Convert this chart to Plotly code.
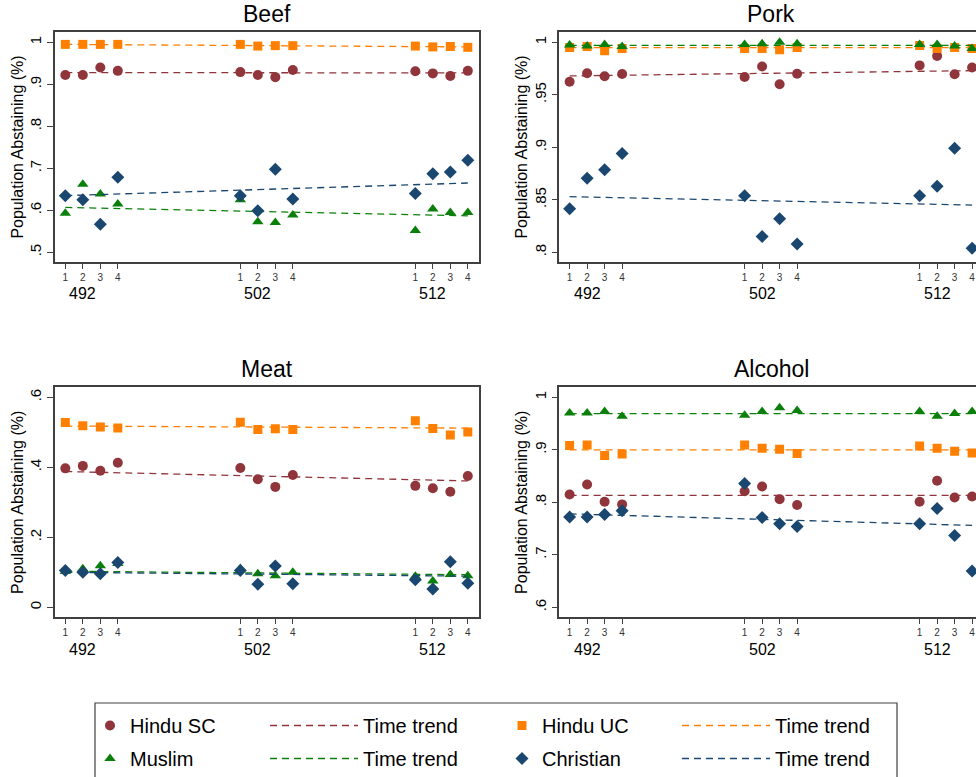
import plotly.graph_objects as go

# ---------------- data ----------------
waves = [492, 502, 512]
quarters = [1, 2, 3, 4]
groups = ["Hindu SC", "Hindu UC", "Muslim", "Christian"]
panels = ["Beef", "Pork", "Meat", "Alcohol"]

beef_sc = [0.922, 0.922, 0.940, 0.932, 0.929, 0.922, 0.917, 0.934, 0.931, 0.926, 0.920, 0.932]
beef_uc = [0.995, 0.995, 0.995, 0.995, 0.995, 0.991, 0.992, 0.992, 0.991, 0.989, 0.990, 0.988]
beef_mu = [0.593, 0.662, 0.639, 0.615, 0.625, 0.573, 0.571, 0.589, 0.552, 0.603, 0.595, 0.595]
beef_ch = [0.635, 0.625, 0.567, 0.679, 0.635, 0.599, 0.698, 0.627, 0.640, 0.687, 0.691, 0.719]
beef_trend = {"Hindu SC": [0.928, 0.927], "Hindu UC": [0.995, 0.989],
              "Muslim": [0.607, 0.587], "Christian": [0.635, 0.665]}

pork_sc = [0.9625, 0.9705, 0.9676, 0.9698, 0.967, 0.977, 0.960, 0.970, 0.978, 0.987, 0.9695, 0.976]
pork_uc = [0.995, 0.996, 0.992, 0.994, 0.994, 0.994, 0.993, 0.995, 0.997, 0.994, 0.995, 0.994]
pork_mu = [0.9975, 0.9965, 0.998, 0.996, 0.998, 0.9987, 1.0, 0.9987, 0.998, 0.998, 0.9965, 0.994]
pork_ch = [0.8416, 0.8705, 0.8787, 0.894, 0.854, 0.815, 0.832, 0.808, 0.854, 0.863, 0.899, 0.804]
pork_trend = {"Hindu SC": [0.968, 0.973], "Hindu UC": [0.995, 0.995],
              "Muslim": [0.997, 0.997], "Christian": [0.853, 0.845]}

meat_sc = [0.397, 0.404, 0.390, 0.413, 0.398, 0.366, 0.344, 0.378, 0.347, 0.340, 0.330, 0.375]
meat_uc = [0.528, 0.519, 0.515, 0.512, 0.529, 0.508, 0.510, 0.508, 0.533, 0.511, 0.492, 0.501]
meat_mu = [0.102, 0.110, 0.119, 0.125, 0.111, 0.096, 0.090, 0.100, 0.089, 0.075, 0.094, 0.090]
meat_ch = [0.105, 0.100, 0.096, 0.128, 0.105, 0.066, 0.118, 0.067, 0.079, 0.052, 0.130, 0.069]
meat_trend = {"Hindu SC": [0.388, 0.361], "Hindu UC": [0.518, 0.512],
              "Muslim": [0.103, 0.093], "Christian": [0.100, 0.089]}

alc_sc = [0.815, 0.834, 0.801, 0.796, 0.821, 0.830, 0.806, 0.795, 0.801, 0.841, 0.809, 0.811]
alc_uc = [0.908, 0.909, 0.889, 0.892, 0.909, 0.903, 0.901, 0.893, 0.907, 0.903, 0.897, 0.894]
alc_mu = [0.970, 0.970, 0.973, 0.964, 0.966, 0.973, 0.980, 0.975, 0.973, 0.964, 0.969, 0.973]
alc_ch = [0.772, 0.772, 0.777, 0.784, 0.836, 0.771, 0.759, 0.754, 0.759, 0.788, 0.737, 0.669]
alc_trend = {"Hindu SC": [0.813, 0.813], "Hindu UC": [0.900, 0.900],
             "Muslim": [0.969, 0.969], "Christian": [0.778, 0.756]}

beef_ticks = [0.5, 0.6, 0.7, 0.8, 0.9, 1.0]
beef_ticktext = [".5", ".6", ".7", ".8", ".9", "1"]
pork_ticks = [0.8, 0.85, 0.9, 0.95, 1.0]
pork_ticktext = [".8", ".85", ".9", ".95", "1"]
meat_ticks = [0, 0.2, 0.4, 0.6]
meat_ticktext = ["0", ".2", ".4", ".6"]
alc_ticks = [0.6, 0.7, 0.8, 0.9, 1.0]
alc_ticktext = [".6", ".7", ".8", ".9", "1"]

panel_values = {
    "Beef": {"Hindu SC": beef_sc, "Hindu UC": beef_uc, "Muslim": beef_mu, "Christian": beef_ch},
    "Pork": {"Hindu SC": pork_sc, "Hindu UC": pork_uc, "Muslim": pork_mu, "Christian": pork_ch},
    "Meat": {"Hindu SC": meat_sc, "Hindu UC": meat_uc, "Muslim": meat_mu, "Christian": meat_ch},
    "Alcohol": {"Hindu SC": alc_sc, "Hindu UC": alc_uc, "Muslim": alc_mu, "Christian": alc_ch},
}
panel_trends = {"Beef": beef_trend, "Pork": pork_trend, "Meat": meat_trend, "Alcohol": alc_trend}
panel_yticks = {"Beef": (beef_ticks, beef_ticktext), "Pork": (pork_ticks, pork_ticktext),
                "Meat": (meat_ticks, meat_ticktext), "Alcohol": (alc_ticks, alc_ticktext)}

# ---------------- style ----------------
W, H = 976, 777
FONT = "Liberation Sans, Arial, sans-serif"
colors = {"Hindu SC": "#90353B", "Hindu UC": "#FF8000", "Muslim": "#0A800A", "Christian": "#1A476F"}
symbols = {"Hindu SC": "circle", "Hindu UC": "square", "Muslim": "triangle-up", "Christian": "diamond"}
msize = {"Hindu SC": 10, "Hindu UC": 9, "Muslim": 10, "Christian": 10}
FRAME = "#404040"

# legend columns: markers of SC/Muslim, their trends, markers of UC/Christian, their trends
marker_legend = {"Hindu SC": "legend", "Muslim": "legend", "Hindu UC": "legend3", "Christian": "legend3"}
trend_legend = {"Hindu SC": "legend2", "Muslim": "legend2", "Hindu UC": "legend4", "Christian": "legend4"}

# quarter positions on the time axis (label of a wave sits on its 2nd quarter)
xq = [w + q - 2 for w in waves for q in quarters]
xq_text = [str(q) for w in waves for q in quarters]

y_ranges = {"Beef": [0.477, 1.0245], "Pork": [0.7908, 1.0098],
            "Meat": [-0.0286, 0.6286], "Alcohol": [0.581, 1.019]}

# pixel layout
px_per_unit = 17.5
x_left_px = {"Beef": 55, "Pork": 559.3, "Meat": 55, "Alcohol": 559.3}
x_right_px = {"Beef": 479, "Pork": 976, "Meat": 479, "Alcohol": 976}
y_top_px = {"Beef": 32, "Pork": 32, "Meat": 387.3, "Alcohol": 387.3}
y_bot_px = {"Beef": 262, "Pork": 262, "Meat": 617.3, "Alcohol": 617.3}
x_start = 490.41

fig = go.Figure()
layout = dict(width=W, height=H, margin=dict(l=0, r=0, t=0, b=0, autoexpand=False),
              paper_bgcolor="white", plot_bgcolor="white",
              font=dict(family=FONT, color="black"), annotations=[], shapes=[])

for i, p in enumerate(panels):
    n = "" if i == 0 else str(i + 1)
    xa, ya = "x" + n, "y" + n
    for g in groups:
        fig.add_trace(go.Scatter(
            x=xq, y=panel_values[p][g], mode="markers", name=g,
            marker=dict(symbol=symbols[g], size=msize[g], color=colors[g], line=dict(width=0)),
            xaxis=xa, yaxis=ya, showlegend=(i == 0), legend=marker_legend[g],
            legendgroup=g + " markers",
            hovertemplate=g + ": %{y:.3f}<extra></extra>"))
        fig.add_trace(go.Scatter(
            x=[xq[0], xq[-1]], y=panel_trends[p][g], mode="lines", name="Time trend",
            line=dict(color=colors[g], width=1.3, dash="7px,5px"),
            xaxis=xa, yaxis=ya, showlegend=(i == 0), legend=trend_legend[g],
            legendgroup=g + " trend",
            hoverinfo="skip"))
    left = x_left_px[p]
    right = x_right_px[p]
    xr = [x_start, x_start + (right - left) / px_per_unit]
    full_right = (i % 2 == 0)
    layout["xaxis" + n] = dict(
        domain=[left / W, right / W], range=xr, anchor=ya,
        tickvals=xq, ticktext=xq_text, tickfont=dict(size=10, color="#333"),
        ticks="outside", ticklen=5, tickcolor=FRAME, tickwidth=1,
        showline=True, linecolor=FRAME, linewidth=1.5, mirror=True,
        showgrid=False, zeroline=False)
    tv, tt = panel_yticks[p]
    layout["yaxis" + n] = dict(
        domain=[1 - y_bot_px[p] / H, 1 - y_top_px[p] / H], range=y_ranges[p], anchor=xa,
        tickvals=tv, ticktext=tt, tickangle=-90, tickfont=dict(size=15),
        ticks="outside", ticklen=6, tickcolor=FRAME, tickwidth=1,
        showline=True, linecolor=FRAME, linewidth=1.5, mirror=full_right,
        showgrid=False, zeroline=False,
        title=dict(text="Population Abstaining (%)", font=dict(size=16), standoff=0))
    # panel title
    layout["annotations"].append(dict(
        text=p, x=(x_start + 514.64) / 2, xref=xa, y=1, yref=ya + " domain",
        yshift=18, yanchor="middle", showarrow=False, font=dict(size=23)))
    # wave labels
    for w in waves:
        layout["annotations"].append(dict(
            text=str(w), x=w, xref=xa, y=0, yref=ya + " domain",
            yshift=-32, yanchor="middle", showarrow=False, font=dict(size=16)))

# legend: four columns, framed by one box
legend_cols = {"legend": (90, 30), "legend2": (265, 88), "legend3": (502, 30), "legend4": (677, 88)}
for key, (x0, iw) in legend_cols.items():
    layout[key] = dict(
        orientation="v", x=x0 / W, y=1 - 706 / H, xanchor="left", yanchor="top",
        borderwidth=0, bgcolor="rgba(0,0,0,0)", itemwidth=iw,
        font=dict(size=20, family=FONT), traceorder="grouped", tracegroupgap=4)
layout["shapes"].append(dict(
    type="rect", xref="paper", yref="paper", x0=95 / W, x1=897 / W,
    y0=1 - 800 / H, y1=1 - 703 / H, line=dict(color="#404040", width=1.2),
    fillcolor="rgba(0,0,0,0)", layer="below"))

fig.update_layout(**layout)
fig.write_html("out.html")
